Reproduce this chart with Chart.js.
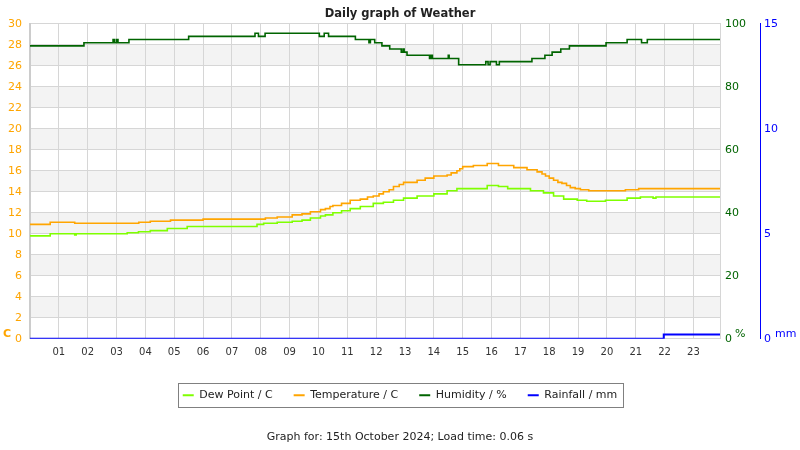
<!DOCTYPE html>
<html>
<head>
<meta charset="utf-8">
<script src="https://cdn.jsdelivr.net/npm/chart.js@4.4.1/dist/chart.umd.min.js"></script>
<style>
  html, body { margin: 0; padding: 0; background: #fff; }
</style>
</head>
<body>
<canvas id="chart" width="800" height="450"></canvas>
<script>
// Hour labels along the bottom (index = hour)
const hourLabels = ['', '01', '02', '03', '04', '05', '06', '07', '08', '09', '10', '11',
    '12', '13', '14', '15', '16', '17', '18', '19', '20', '21', '22', '23'];
const lastHour = 23.92;

// Dew point (C): hour of change -> new value
const dewTimes  = [0, 0.7, 1.55, 1.6, 3.37, 3.76, 4.17, 4.76, 5.45, 7.87, 8.1, 8.57, 9.09, 9.43, 9.72,
    10.07, 10.24, 10.5, 10.8, 11.1, 11.45, 11.9, 12.25, 12.6, 12.95, 13.42, 14.0, 14.46, 14.8,
    15.85, 16.24, 16.56, 17.35, 17.8, 18.15, 18.5, 18.97, 19.3, 19.95, 20.7, 21.16, 21.6, 21.7, lastHour];
const dewValues = [9.8, 10.0, 9.9, 10.0, 10.1, 10.2, 10.3, 10.5, 10.7, 10.9, 11.0, 11.1, 11.2, 11.3, 11.5,
    11.7, 11.8, 12.0, 12.2, 12.4, 12.6, 12.9, 13.0, 13.2, 13.4, 13.6, 13.8, 14.1, 14.3,
    14.6, 14.5, 14.3, 14.1, 13.9, 13.6, 13.3, 13.2, 13.1, 13.2, 13.4, 13.5, 13.4, 13.5, 13.5];

// Temperature (C)
const tempTimes  = [0, 0.7, 1.55, 3.77, 4.17, 4.87, 6.0, 8.16, 8.57, 9.09, 9.43, 9.72, 10.07, 10.24, 10.4,
    10.5, 10.8, 11.1, 11.45, 11.7, 11.9, 12.1, 12.25, 12.45, 12.6, 12.8, 12.95, 13.42, 13.7, 14.0,
    14.46, 14.6, 14.8, 14.9, 15.0, 15.37, 15.85, 16.24, 16.77, 17.23, 17.58, 17.75, 17.87, 18.0,
    18.15, 18.3, 18.44, 18.6, 18.73, 18.9, 19.08, 19.37, 20.64, 21.1, lastHour];
const tempValues = [10.9, 11.1, 11.0, 11.1, 11.2, 11.3, 11.4, 11.5, 11.6, 11.8, 11.9, 12.1, 12.3, 12.4, 12.6,
    12.7, 12.9, 13.2, 13.3, 13.5, 13.6, 13.8, 14.0, 14.2, 14.5, 14.7, 14.9, 15.1, 15.3, 15.5,
    15.6, 15.8, 16.0, 16.2, 16.4, 16.5, 16.7, 16.5, 16.3, 16.1, 15.9, 15.7, 15.5, 15.3,
    15.1, 14.9, 14.8, 14.6, 14.4, 14.3, 14.2, 14.1, 14.2, 14.3, 14.3];

// Humidity (%)
const humTimes  = [0, 1.87, 2.88, 2.93, 3.0, 3.05, 3.43, 5.5, 7.8, 7.92, 8.15, 10.03, 10.2, 10.35, 11.28,
    11.75, 11.8, 11.95, 12.2, 12.47, 12.87, 12.93, 12.97, 13.07, 13.85, 13.9, 13.95, 14.5, 14.53, 14.86,
    15.8, 15.88, 15.95, 16.17, 16.27, 17.4, 17.85, 18.1, 18.4, 18.7, 19.97, 20.7, 21.2, 21.4, lastHour];
const humValues = [93, 94, 95, 94, 95, 94, 95, 96, 97, 96, 97, 96, 97, 96, 95,
    94, 95, 94, 93, 92, 91, 92, 91, 90, 89, 90, 89, 90, 89, 87,
    88, 87, 88, 87, 88, 89, 90, 91, 92, 93, 94, 95, 94, 95, 95];

// Rainfall (mm)
const rainTimes  = [0, 21.97, lastHour];
const rainValues = [0, 0.2, 0.2];

const FONT = 'DejaVu Sans';
const ORANGE = '#ffa500';
const GREEN = '#006400';
const BLUE = '#0000ff';
const LIME = '#7fff00';
const GRID = '#d6d6d6';

const toPoints = (xs, ys) => xs.map((x, i) => ({ x: x, y: ys[i] }));

// White background and alternating grey bands behind the grid
const bandPlugin = {
    id: 'bands',
    beforeDraw(chart) {
        const { ctx, chartArea: a, scales: { y } } = chart;
        ctx.save();
        ctx.fillStyle = '#fff';
        ctx.fillRect(0, 0, chart.width, chart.height);
        ctx.fillStyle = '#f3f3f3';
        for (let v = 2; v < 30; v += 4) {
            const top = y.getPixelForValue(v + 2);
            const bottom = y.getPixelForValue(v);
            ctx.fillRect(a.left, top, a.right - a.left, bottom - top);
        }
        ctx.restore();
    }
};

// Unit captions next to the axes and the frame round the legend
const extrasPlugin = {
    id: 'extras',
    afterDraw(chart) {
        const { ctx, chartArea: a } = chart;
        const yb = a.bottom - 5;
        ctx.save();
        ctx.textBaseline = 'middle';
        ctx.textAlign = 'left';
        ctx.font = 'bold 11px ' + FONT;
        ctx.fillStyle = ORANGE;
        ctx.fillText('C', 3, yb);
        ctx.font = '11px ' + FONT;
        ctx.fillStyle = GREEN;
        ctx.fillText('%', a.right + 15, yb);
        ctx.fillStyle = BLUE;
        ctx.fillText('mm', a.right + 55, yb);

        const boxes = chart.legend.legendHitBoxes;
        if (boxes && boxes.length) {
            const first = boxes[0];
            const last = boxes[boxes.length - 1];
            const left = first.left - 5;
            const right = last.left + last.width + 5;
            const top = first.top - 7;
            const bottom = first.top + first.height + 6;
            ctx.strokeStyle = '#808080';
            ctx.lineWidth = 1;
            ctx.strokeRect(Math.round(left) + 0.5, Math.round(top) + 0.5,
                Math.round(right - left), Math.round(bottom - top));
        }
        ctx.restore();
    }
};

const lineDataset = (label, xs, ys, color, axis) => ({
    label: label,
    data: toPoints(xs, ys),
    yAxisID: axis,
    borderColor: color,
    backgroundColor: color,
    borderWidth: 1.6,
    pointRadius: 0,
    stepped: true,
    fill: false,
    tension: 0
});

new Chart(document.getElementById('chart'), {
    type: 'line',
    data: {
        datasets: [
            lineDataset('Dew Point / C', dewTimes, dewValues, LIME, 'y'),
            lineDataset('Temperature / C', tempTimes, tempValues, ORANGE, 'y'),
            lineDataset('Humidity / %', humTimes, humValues, GREEN, 'y1'),
            Object.assign(lineDataset('Rainfall / mm', rainTimes, rainValues, BLUE, 'y2'), { borderWidth: 2 })
        ]
    },
    options: {
        responsive: false,
        animation: false,
        layout: { padding: 0 },
        scales: {
            x: {
                type: 'linear',
                min: 0,
                max: lastHour,
                afterFit: (s) => { s.height = 30; },
                grid: { color: GRID, drawTicks: false },
                border: { color: GRID },
                ticks: {
                    stepSize: 1,
                    includeBounds: false,
                    padding: 8,
                    maxRotation: 0,
                    autoSkip: false,
                    color: '#333',
                    font: { family: FONT, size: 10 },
                    callback: (v) => hourLabels[v] !== undefined ? hourLabels[v] : ''
                }
            },
            y: {
                position: 'left',
                min: 0,
                max: 30,
                afterFit: (s) => { s.width = 30; },
                grid: { color: GRID, drawTicks: false },
                border: { color: '#cccccc', width: 2 },
                ticks: {
                    stepSize: 2,
                    padding: 8,
                    color: ORANGE,
                    font: { family: FONT, size: 11 }
                }
            },
            y1: {
                position: 'right',
                min: 0,
                max: 100,
                afterFit: (s) => { s.width = 40; },
                grid: { display: false, drawTicks: false },
                border: { color: GRID, width: 1 },
                ticks: {
                    stepSize: 20,
                    padding: 5,
                    color: GREEN,
                    font: { family: FONT, size: 11 }
                }
            },
            y2: {
                position: 'right',
                min: 0,
                max: 15,
                afterFit: (s) => { s.width = 40; },
                grid: { display: false, drawTicks: false },
                border: { color: BLUE, width: 1 },
                ticks: {
                    stepSize: 5,
                    padding: 4,
                    color: BLUE,
                    font: { family: FONT, size: 11 }
                }
            }
        },
        plugins: {
            title: {
                display: true,
                text: 'Daily graph of Weather',
                color: '#222',
                font: { family: FONT, size: 11.5, weight: 'bold' },
                padding: { top: 7, bottom: 3 }
            },
            subtitle: {
                display: true,
                position: 'bottom',
                text: 'Graph for: 15th October 2024; Load time: 0.06 s',
                color: '#222',
                font: { family: FONT, size: 11 },
                padding: { top: 20, bottom: 6 }
            },
            legend: {
                display: true,
                position: 'bottom',
                labels: {
                    boxWidth: 11,
                    boxHeight: 2,
                    padding: 21,
                    color: '#222',
                    font: { family: FONT, size: 11 },
                    generateLabels: (chart) => Chart.defaults.plugins.legend.labels.generateLabels(chart)
                        .map(l => Object.assign(l, { lineWidth: 0 }))
                }
            },
            tooltip: { enabled: false }
        }
    },
    plugins: [bandPlugin, extrasPlugin]
});
</script>
</body>
</html>
